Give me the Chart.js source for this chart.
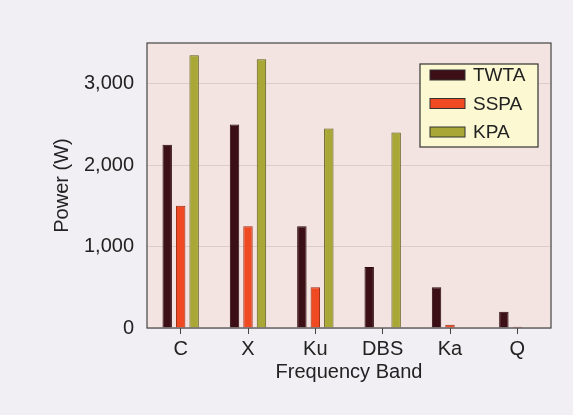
<!DOCTYPE html>
<html>
<head>
<meta charset="utf-8">
<script src="https://cdn.jsdelivr.net/npm/chart.js@4"></script>
<style>
  html, body { margin: 0; padding: 0; background: #f1eff3; }
  #wrap { width: 573px; height: 415px; }
</style>
</head>
<body>
<div id="wrap"><canvas id="grafico" width="573" height="415"></canvas></div>
<script>
// dados
const bandas = ["C", "X", "Ku", "DBS", "Ka", "Q"];
const twta = [2250, 2500, 1250, 750, 500, 200];
const sspa = [1500, 1250, 500, 0, 40, 15];
const kpa = [3350, 3300, 2450, 2400, 0, 0];
const yTicks = [0, 1000, 2000, 3000];

const fonte = "'Liberation Sans', Arial, sans-serif";

// fundo rosado e moldura da area do grafico
const fundoPlot = {
    id: "fundoPlot",
    beforeDraw(chart) {
        const { ctx, chartArea: a } = chart;
        ctx.save();
        ctx.fillStyle = "#f3e3e1";
        ctx.fillRect(a.left, a.top, a.right - a.left, a.bottom - a.top);
        ctx.restore();
    },
    afterDraw(chart) {
        const { ctx, chartArea: a } = chart;
        ctx.save();
        ctx.strokeStyle = "#444";
        ctx.lineWidth = 1.2;
        ctx.strokeRect(a.left, a.top, a.right - a.left, a.bottom - a.top);
        ctx.restore();
    }
};

// legenda dentro da area, canto superior direito
const legendaDentro = {
    id: "legendaDentro",
    afterDraw(chart) {
        const ctx = chart.ctx;
        const x = 420, y = 64, w = 118, h = 83;
        ctx.save();
        ctx.fillStyle = "#fbf8d2";
        ctx.fillRect(x, y, w, h);
        ctx.strokeStyle = "#333";
        ctx.lineWidth = 1.2;
        ctx.strokeRect(x, y, w, h);
        ctx.font = "19px " + fonte;
        ctx.textBaseline = "middle";
        chart.data.datasets.forEach((ds, i) => {
            const cy = y + 11 + i * 28.5;
            ctx.fillStyle = ds.backgroundColor;
            ctx.fillRect(x + 10, cy - 5, 35, 10);
            ctx.strokeStyle = "#333";
            ctx.lineWidth = 1;
            ctx.strokeRect(x + 10, cy - 5, 35, 10);
            ctx.fillStyle = "#222";
            ctx.fillText(ds.label, x + 53, cy + 1);
        });
        ctx.restore();
    }
};

new Chart(document.getElementById("grafico"), {
    type: "bar",
    data: {
        labels: bandas,
        datasets: [
            { label: "TWTA", data: twta, backgroundColor: "#3b0f15", borderColor: "#2a0a0d", borderWidth: 1 },
            { label: "SSPA", data: sspa, backgroundColor: "#f04a22", borderColor: "#9a2a12", borderWidth: 1 },
            { label: "KPA", data: kpa, backgroundColor: "#a9a735", borderColor: "#5e5c18", borderWidth: 1 }
        ]
    },
    options: {
        responsive: false,
        animation: false,
        categoryPercentage: 0.6,
        barPercentage: 0.7,
        layout: { padding: { top: 43, right: 22, left: 0, bottom: 27 } },
        plugins: {
            legend: { display: false },
            tooltip: { enabled: false }
        },
        scales: {
            x: {
                afterFit(scale) { scale.height = 60; },
                grid: { display: true, offset: false, drawOnChartArea: false, tickLength: 6, color: "#444" },
                border: { display: false },
                ticks: { color: "#222", padding: 3, font: { family: fonte, size: 20 } },
                title: {
                    display: true, text: "Frequency Band", color: "#222",
                    font: { family: fonte, size: 20 }, padding: { top: 0, bottom: 4 }
                }
            },
            y: {
                min: 0,
                max: 3500,
                afterFit(scale) { scale.width = 147; },
                afterBuildTicks(scale) { scale.ticks = yTicks.map(v => ({ value: v })); },
                grid: { color: "rgba(120,100,100,0.18)", drawTicks: false },
                border: { display: false },
                ticks: {
                    color: "#222", padding: 13,
                    font: { family: fonte, size: 20 },
                    callback: v => v.toLocaleString("en-US")
                },
                title: {
                    display: true, text: "Power (W)", color: "#222",
                    font: { family: fonte, size: 20 }, padding: { top: 50, bottom: 0 }
                }
            }
        }
    },
    plugins: [fundoPlot, legendaDentro]
});
</script>
</body>
</html>
